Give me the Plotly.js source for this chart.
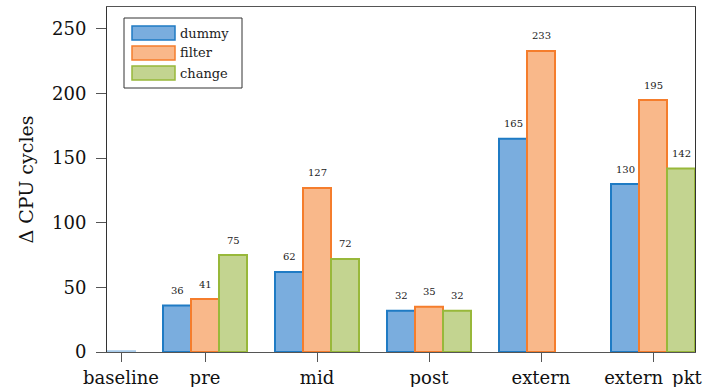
<!DOCTYPE html>
<html>
<head>
<meta charset="utf-8">
<script src="https://cdn.plot.ly/plotly-3.0.1.min.js"></script>
<style>
  html, body { margin: 0; padding: 0; background: #fff; }
  #chart { width: 716px; height: 387px; }
</style>
</head>
<body>
<div id="chart"></div>
<script>
// Added CPU cycles per hook position, for three program variants
const categories = ['baseline', 'pre', 'mid', 'post', 'extern', 'extern_pkt'];
const dummy  = [0.6, 36, 62, 32, 165, 130];
const filter = [null, 41, 127, 35, 233, 195];
const change = [null, 75, 72, 32, null, 142];

const yTicks = [0, 50, 100, 150, 200, 250];

const BAR_W = 0.25;
// baseline carries a single bar, so its slot sits three bar-widths left of "pre";
// every other group is one unit apart
const groupPos = categories.map((c, i) => (i === 0 ? 1 - 3 * BAR_W : i));

const series = [
  { name: 'dummy',  values: dummy,  offset: -BAR_W, fill: '#7aadde', edge: '#1f7bc4', faint: '#a8cbea' },
  { name: 'filter', values: filter, offset: 0,      fill: '#f9b88a', edge: '#f57d2c', faint: '#fbd0b0' },
  { name: 'change', values: change, offset: BAR_W,  fill: '#c3d490', edge: '#98b83a', faint: '#d8e4b6' }
];

const FONT = 'DejaVu Serif, Liberation Serif, serif';

const W = 716, H = 387;
const M = { l: 107, r: 21, t: 7, b: 35 };
const plotW = W - M.l - M.r, plotH = H - M.t - M.b;
// pixel offsets inside the plot area -> paper fractions
const px = v => v / plotW;
const py = v => 1 - v / plotH;

const traces = series.map(s => ({
  type: 'bar',
  name: s.name,
  // the baseline bar is centred on its own tick
  x: categories.map((c, i) => (i === 0 ? groupPos[i] : groupPos[i] + s.offset)),
  y: s.values,
  width: BAR_W,
  marker: {
    color: s.fill,
    line: {
      color: categories.map((c, i) => (i === 0 ? s.faint : s.edge)),
      width: 2
    }
  },
  showlegend: false,
  hoverinfo: 'skip'
}));

// value labels above each bar (baseline is left unlabelled)
const annotations = [];
series.forEach(s => {
  s.values.forEach((v, i) => {
    if (v === null || i === 0) return;
    annotations.push({
      x: groupPos[i] + s.offset,
      y: v,
      xref: 'x', yref: 'y',
      text: String(v),
      showarrow: false,
      yanchor: 'middle',
      yshift: 15,
      font: { family: FONT, size: 10, color: '#222' }
    });
  });
});

// legend box with wide colour patches
const shapes = [];
const LEG = { x0: 17, x1: 135, y0: 11, y1: 81, patchX0: 25, patchX1: 68, rowTop: 19, rowStep: 20, patchH: 14, textX: 71 };
shapes.push({
  type: 'rect', xref: 'paper', yref: 'paper',
  x0: px(LEG.x0), x1: px(LEG.x1), y0: py(LEG.y1), y1: py(LEG.y0),
  fillcolor: '#fff', line: { color: '#333', width: 1 }, layer: 'above'
});
series.forEach((s, k) => {
  const top = LEG.rowTop + k * LEG.rowStep;
  shapes.push({
    type: 'rect', xref: 'paper', yref: 'paper',
    x0: px(LEG.patchX0), x1: px(LEG.patchX1), y0: py(top + LEG.patchH), y1: py(top),
    fillcolor: s.fill, line: { color: s.edge, width: 1.5 }, layer: 'above'
  });
  annotations.push({
    xref: 'paper', yref: 'paper',
    x: px(LEG.textX), y: py(top + LEG.patchH / 2),
    xanchor: 'left', yanchor: 'middle',
    text: s.name, showarrow: false,
    font: { family: FONT, size: 13, color: '#222' }
  });
});

const layout = {
  width: W,
  height: H,
  margin: M,
  paper_bgcolor: '#fff',
  plot_bgcolor: '#fff',
  barmode: 'overlay',
  showlegend: false,
  xaxis: {
    range: [groupPos[0] - BAR_W / 2, groupPos[groupPos.length - 1] + 1.5 * BAR_W],
    tickmode: 'array',
    tickvals: groupPos,
    ticktext: categories,
    ticks: 'outside',
    ticklen: 9,
    tickwidth: 1,
    tickcolor: '#555',
    showline: true,
    linecolor: '#555',
    linewidth: 1,
    mirror: true,
    showgrid: false,
    zeroline: false,
    tickfont: { family: FONT, size: 18, color: '#111' }
  },
  yaxis: {
    range: [0, 267],
    tickmode: 'array',
    tickvals: yTicks,
    ticks: 'outside',
    ticklen: 10,
    tickwidth: 1,
    tickcolor: '#555',
    ticklabelstandoff: 6,
    showline: true,
    linecolor: '#333',
    linewidth: 1,
    mirror: true,
    showgrid: false,
    zeroline: false,
    tickfont: { family: FONT, size: 18, color: '#111' },
    title: {
      text: 'Δ CPU cycles',
      font: { family: FONT, size: 19, color: '#111' },
      standoff: 13
    }
  },
  shapes: shapes,
  annotations: annotations
};

Plotly.newPlot('chart', traces, layout, { staticPlot: true, displayModeBar: false });
</script>
</body>
</html>
